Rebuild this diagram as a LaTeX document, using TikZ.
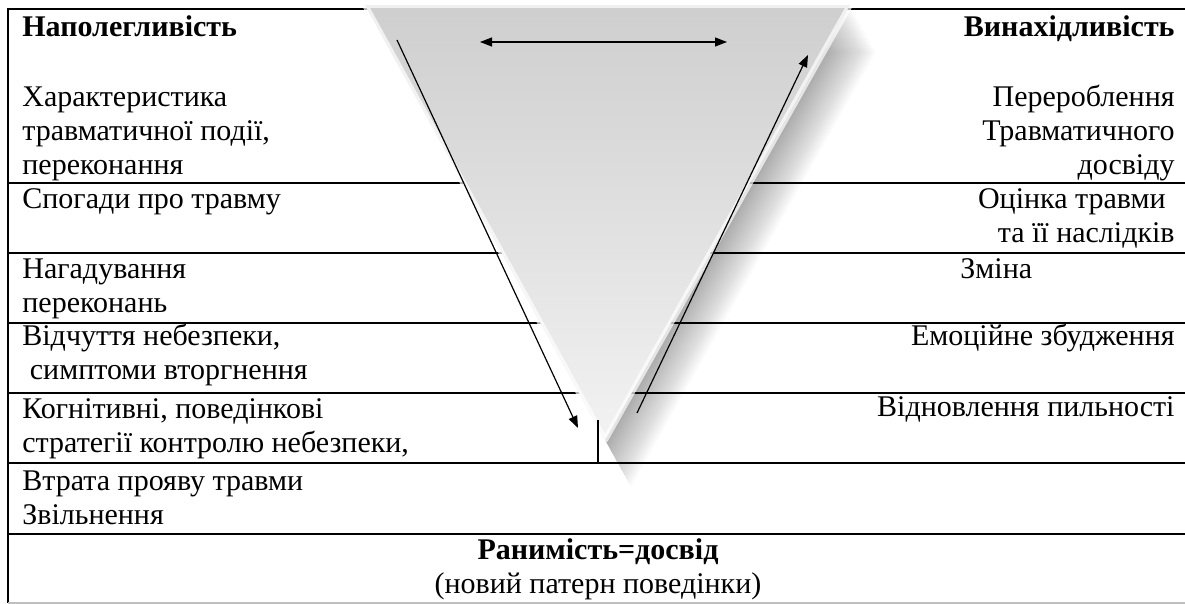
\documentclass[tikz,border=0pt]{standalone}
\usepackage{fontspec}
\setmainfont{Liberation Serif}
\usetikzlibrary{positioning,arrows.meta}
\newcommand{\dfont}{\fontsize{15}{17}\selectfont}

\begin{document}
\begin{tikzpicture}[x=0.5pt,y=-0.5pt,
  rule/.style={line width=0.7pt},
  lt/.style={inner sep=0pt, anchor=north west, align=left, font=\dfont},
  rt/.style={inner sep=0pt, anchor=north east, align=right, font=\dfont},
  arr/.style={line width=0.6pt, -{Triangle[length=6pt,width=4.5pt]}}]
\useasboundingbox (0,0) rectangle (1185,604);

% table rows
\foreach \y in {183,253,323,393,463,534}
  \draw[rule] (8,\y) -- (1185,\y);
\draw[rule] (1185,9) -- (8,9) -- (8,603);
\draw[rule, gray!50] (8,603) -- (1185,603);

% funnel with soft shadow
\coordinate (tl) at (365,5);
\coordinate (tr) at (850,5);
\coordinate (ap) at (605,440);
\foreach \d in {1,...,26}
  \fill[black, opacity=0.017, shift={(\d*1.0,\d*1.8)}] (365,5) -- (850,5) -- (605,440) -- cycle;
\shade[top color=gray!38, bottom color=gray!10] (tl) -- (tr) -- (ap) -- cycle;
\draw[white, line width=3pt, opacity=0.7, line join=round] (tl) -- (tr) -- (ap) -- cycle;

% arrows
\coordinate (h1) at (480,42);
\coordinate (h2) at (727,42);
\coordinate (d1) at (397,40);
\coordinate (d2) at (578,428);
\coordinate (u1) at (637,413);
\coordinate (u2) at (808,55);
\coordinate (v1) at (598,420);
\coordinate (v2) at (598,463);
\draw[arr, {Triangle[length=6pt,width=4.5pt]}-{Triangle[length=6pt,width=4.5pt]}] (h1) -- (h2);
\draw[arr] (d1) -- (d2);
\draw[arr] (u1) -- (u2);
\draw[line width=0.6pt] (v1) -- (v2);

% left column
\node[lt] (nap) at (22,12) {\strut\textbf{Наполегливість}};
\node[lt] (har) at (22,82) {\strut Характеристика\\травматичної події,\\переконання};
\node[lt] (spo) at (22,184) {\strut Спогади про травму};
\node[lt] (nag) at (22,254) {\strut Нагадування\\переконань};
\node[lt] (vid) at (22,321) {\strut Відчуття небезпеки,\\\hspace*{0.25em}симптоми вторгнення};
\node[lt] (kog) at (22,394) {\strut Когнітивні, поведінкові\\стратегії контролю небезпеки,};
\node[lt] (vtr) at (22,466) {\strut Втрата прояву травми\\Звільнення};

% right column
\node[rt] (vyn) at (1175,12) {\strut\textbf{Винахідливість}};
\node[rt] (per) at (1175,82) {\strut Перероблення\\Травматичного\\досвіду};
\node[rt] (oci) at (1175,184) {\strut Оцінка травми\hspace*{0.3em}\\та її наслідків};
\node[lt] (zmi) at (960,254) {\strut Зміна};
\node[rt] (emo) at (1175,321) {\strut Емоційне збудження};
\node[rt] (vdn) at (1175,392) {\strut Відновлення пильності};

% bottom row
\node[inner sep=0pt, anchor=north, align=center, font=\dfont] (ran) at (598,535)
  {\strut\textbf{Ранимість=досвід}\\(новий патерн поведінки)};
\end{tikzpicture}
\end{document}
